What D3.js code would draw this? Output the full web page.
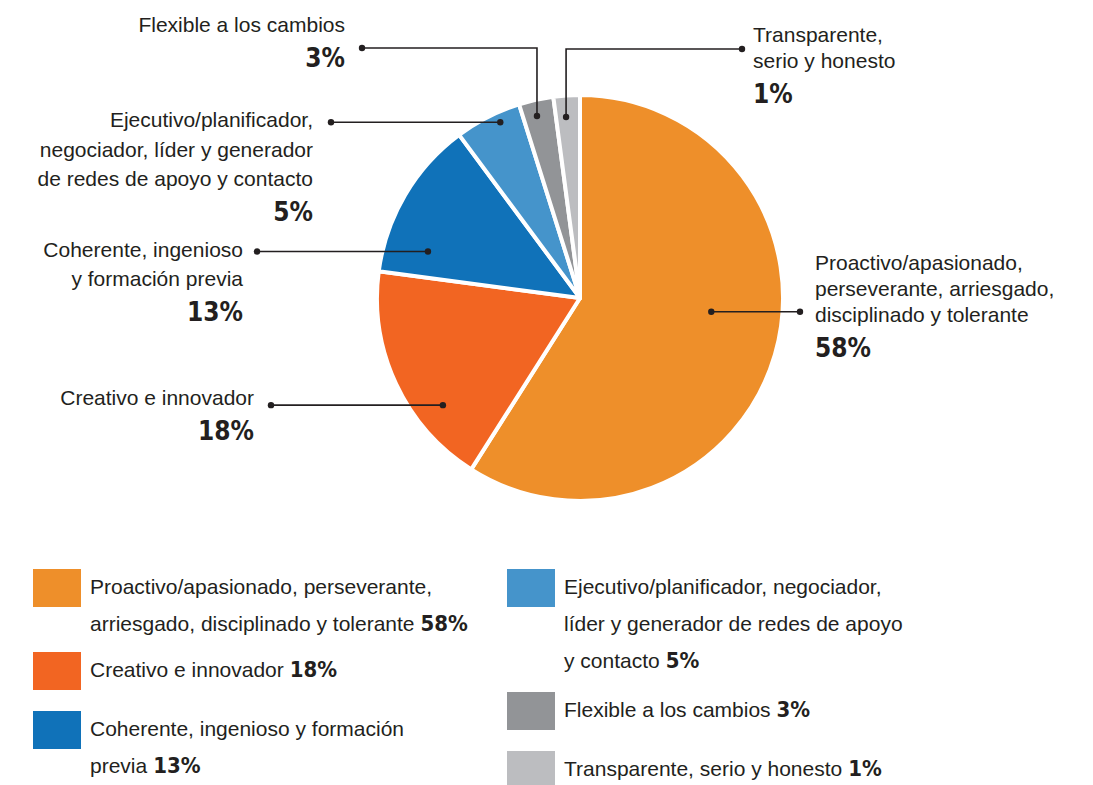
<!DOCTYPE html>
<html>
<head>
<meta charset="utf-8">
<script src="https://cdn.jsdelivr.net/npm/d3@7"></script>
<style>
  html, body { margin: 0; padding: 0; background: #fff; }
  svg text { fill: #231f20; }
  .reg { font-family: "Liberation Sans", Arial, sans-serif; font-size: 21px; }
  .pct { font-family: "DejaVu Sans Condensed", "DejaVu Sans", sans-serif; font-weight: bold; }
</style>
</head>
<body>
<div id="chart"></div>
<script>
// --- data ----------------------------------------------------------------
const categories = [
  'Proactivo/apasionado, perseverante, arriesgado, disciplinado y tolerante',
  'Creativo e innovador',
  'Coherente, ingenioso y formación previa',
  'Ejecutivo/planificador, negociador, líder y generador de redes de apoyo y contacto',
  'Flexible a los cambios',
  'Transparente, serio y honesto'
];
const percents = [58, 18, 13, 5, 3, 1];
// slice sizes as drawn in the picture (labels are rounded)
const sliceShare = [59, 18.1, 12.75, 5.3, 2.75, 2.1];
const colors = ['#ee8f2a', '#f26522', '#1072b9', '#4594cb', '#929497', '#bcbdc0'];

// line breaks used by the callouts and the legend
const calloutLines = [
  ['Proactivo/apasionado,', 'perseverante, arriesgado,', 'disciplinado y tolerante'],
  ['Creativo e innovador'],
  ['Coherente, ingenioso', 'y formación previa'],
  ['Ejecutivo/planificador,', 'negociador, líder y generador', 'de redes de apoyo y contacto'],
  ['Flexible a los cambios'],
  ['Transparente,', 'serio y honesto']
];
const legendLines = [
  ['Proactivo/apasionado, perseverante,', 'arriesgado, disciplinado y tolerante'],
  ['Creativo e innovador'],
  ['Coherente, ingenioso y formación', 'previa'],
  ['Ejecutivo/planificador, negociador,', 'líder y generador de redes de apoyo', 'y contacto'],
  ['Flexible a los cambios'],
  ['Transparente, serio y honesto']
];

// --- layout --------------------------------------------------------------
const W = 1093, H = 785;
const CX = 580, CY = 298, R = 203;

// callout placement: dot in polar coords (deg, px), where the leader ends, text block
const callout = [
  { ang: 96,    r: 132,   endX: 800, anchor: 'start', tx: 815, ty: 270, lh: 26 },
  { ang: 232,   r: 174,   endX: 271, anchor: 'end',   tx: 254, ty: 405, lh: 30 },
  { ang: 287,   r: 159,   endX: 257, anchor: 'end',   tx: 243, ty: 257, lh: 29 },
  { ang: 335.6, r: 193,   endX: 331, anchor: 'end',   tx: 313, ty: 127, lh: 29.5 },
  { ang: 346.7, r: 187,   endX: 362, elbowY: 48, anchor: 'end',   tx: 345, ty: 32, lh: 30 },
  { ang: 355.6, r: 181.5, endX: 742, elbowY: 49, anchor: 'start', tx: 753, ty: 42, lh: 26 }
];
const legendCols = [
  { x: 33,  top: 569, items: [0, 1, 2] },
  { x: 507, top: 569, items: [3, 4, 5] }
];

const svg = d3.select('#chart').append('svg')
    .attr('width', W)
    .attr('height', H);

const data = categories.map((c, i) => ({
  name: c, pct: percents[i], share: sliceShare[i], color: colors[i], i
}));

const pie = d3.pie().sort(null).value(d => d.share);
const arc = d3.arc().innerRadius(0).outerRadius(R);

const gPie = svg.append('g').attr('transform', `translate(${CX},${CY})`);
gPie.selectAll('path')
  .data(pie(data))
  .join('path')
    .attr('d', arc)
    .attr('fill', d => d.data.color)
    .attr('stroke', '#fff')
    .attr('stroke-width', 4)
    .attr('stroke-linejoin', 'round');

// callouts
const gCall = svg.append('g');
data.forEach((d, i) => {
  const c = callout[i];
  const [px, py] = d3.pointRadial(c.ang * Math.PI / 180, c.r);
  const x0 = CX + px, y0 = CY + py;
  const yLine = c.elbowY != null ? c.elbowY : y0;
  const pts = c.elbowY != null
    ? [[x0, y0], [x0, yLine], [c.endX, yLine]]
    : [[x0, y0], [c.endX, yLine]];

  gCall.append('path')
    .attr('d', d3.line()(pts))
    .attr('fill', 'none')
    .attr('stroke', '#231f20')
    .attr('stroke-width', 1.6);
  gCall.selectAll(null)
    .data([pts[0], pts[pts.length - 1]])
    .join('circle')
      .attr('cx', p => p[0])
      .attr('cy', p => p[1])
      .attr('r', 3.2)
      .attr('fill', '#231f20');

  const t = gCall.append('text')
    .attr('text-anchor', c.anchor)
    .attr('x', c.tx)
    .attr('y', c.ty);
  calloutLines[i].forEach((ln, k) => {
    t.append('tspan')
      .attr('class', 'reg')
      .attr('x', c.tx)
      .attr('y', c.ty + k * c.lh)
      .text(ln);
  });
  t.append('tspan')
    .attr('class', 'pct')
    .attr('x', c.tx)
    .attr('y', c.ty + (calloutLines[i].length - 1) * c.lh + 35)
    .style('font-size', '26px')
    .text(d.pct + '%');
});

// legend
const SW = 48, SH = 38, LH = 37;
legendCols.forEach(col => {
  let top = col.top;
  col.items.forEach(i => {
    const d = data[i];
    const lines = legendLines[i];
    svg.append('rect')
      .attr('x', col.x)
      .attr('y', top)
      .attr('width', SW)
      .attr('height', SH)
      .attr('fill', d.color);
    const tx = col.x + SW + 9;
    const t = svg.append('text').attr('x', tx).attr('y', top + 25);
    lines.forEach((ln, k) => {
      t.append('tspan')
        .attr('class', 'reg')
        .attr('x', tx)
        .attr('y', top + 25 + k * LH)
        .text(ln);
    });
    t.append('tspan')
      .attr('class', 'pct')
      .attr('dx', 6)
      .style('font-size', '22px')
      .text(d.pct + '%');
    top += Math.max(SH, 25 + (lines.length - 1) * LH) + (lines.length > 2 ? 24 : 21);
  });
});
</script>
</body>
</html>
